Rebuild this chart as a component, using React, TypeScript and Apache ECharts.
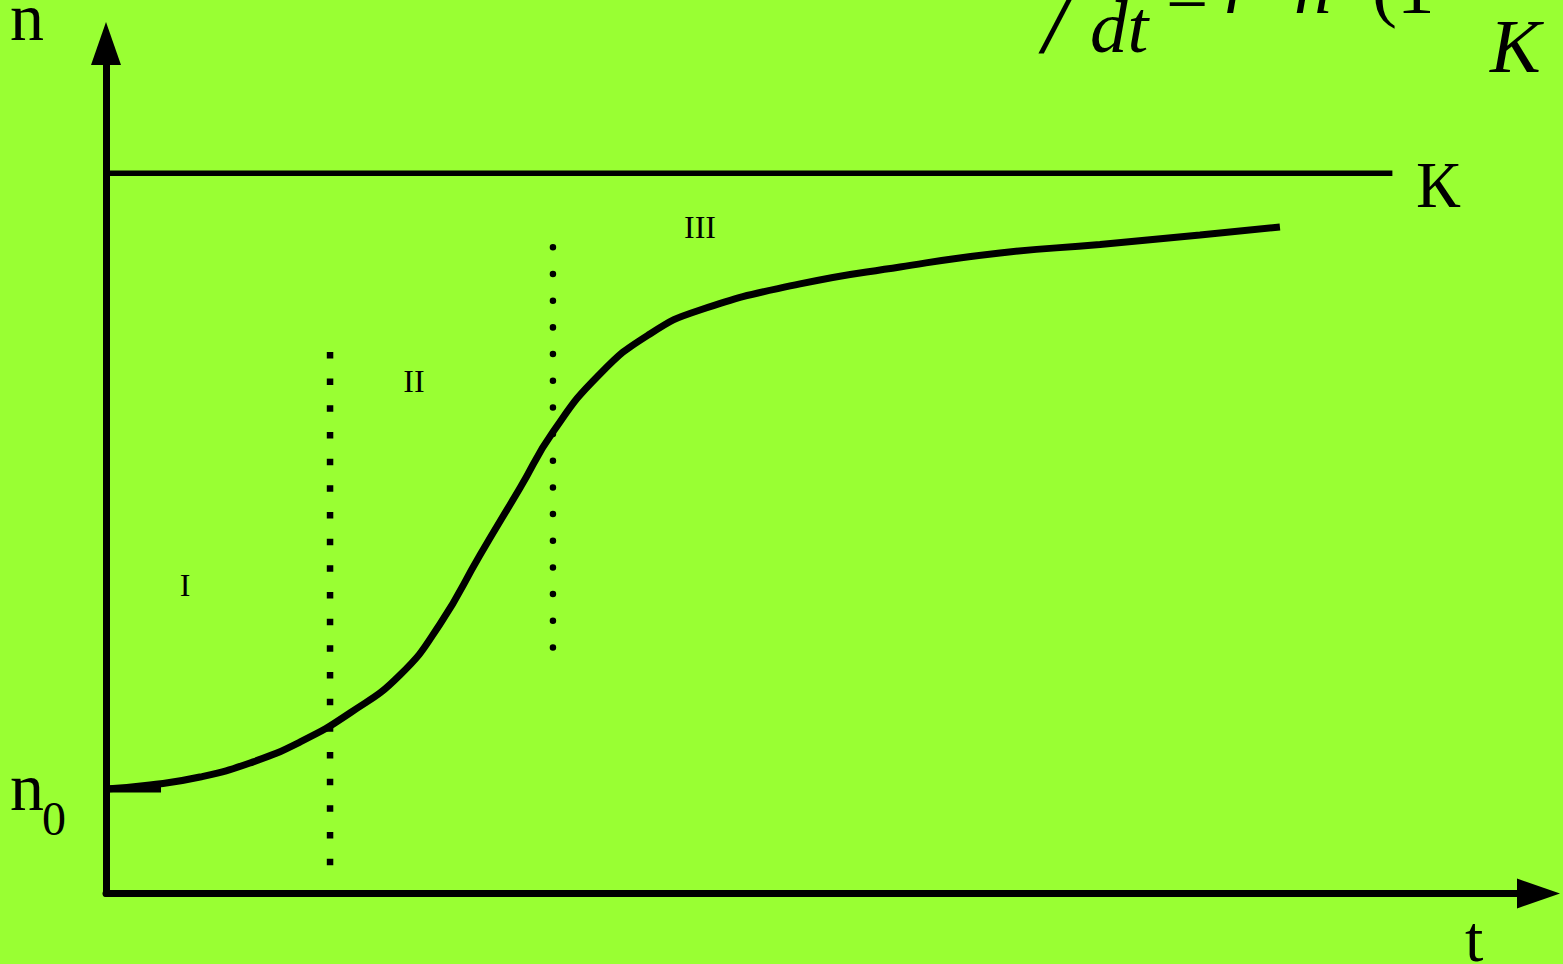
import React, { useEffect, useRef } from "react";
import * as echarts from "echarts";

// Logistic growth sketch, values in arbitrary units (t: 0..100, n: 0..118, K = 100)
const carryingCapacity = 100;
const kLineEnd = 89.8;
const n0 = 14.5;
const n0TickEnd = 3.84;
const curveT = [0, 3.07, 6.56, 10.05, 13.54, 17.03, 20.52, 23.32, 26.11, 28.9, 31.2, 34.48, 37.97, 41.47, 48.45, 55.43, 62.41, 69.39, 76.37, 81.95];
const curveN = [14.51, 15.06, 16.17, 18.12, 21.03, 25.06, 30.33, 37.42, 46.99, 56.3, 64.07, 72.12, 77.68, 81.01, 84.62, 86.98, 88.92, 90.1, 91.42, 92.53];
const phase1Boundary = { t: 15.64, nTop: 75.18, nBottom: 3.9 };
const phase2Boundary = { t: 31.2, nTop: 89.7, nBottom: 33.5 };
const phaseLabels = ["I", "II", "III"];

const SERIF = "'Liberation Serif', 'DejaVu Serif', serif";
const BG = "#99FF33";

export default function App() {
  const ref = useRef<HTMLDivElement>(null);
  useEffect(() => {
    if (!ref.current) return;
    const chart = echarts.init(ref.current, undefined, { renderer: "svg" });
    const txt = (text: string, x: number, y: number, size: number, opts: any = {}) => ({
      type: "text",
      x,
      y,
      silent: true,
      style: {
        text,
        fill: "#000",
        fontFamily: SERIF,
        fontSize: size,
        fontStyle: opts.italic ? "italic" : "normal",
        align: opts.align || "left",
        verticalAlign: "middle",
      },
    });
    const axisLine = {
      show: true,
      symbol: ["none", "triangle"],
      symbolSize: [30, 43],
      lineStyle: { color: "#000", width: 7 },
    };
    const option: any = {
      animation: false,
      backgroundColor: BG,
      grid: { left: 106, right: 24.5, top: 43.5, bottom: 70.5, outerBoundsMode: "none", containLabel: false },
      xAxis: {
        type: "value",
        min: 0,
        max: 100,
        splitLine: { show: false },
        axisTick: { show: false },
        axisLabel: { show: false },
        axisLine,
      },
      yAxis: {
        type: "value",
        min: 0,
        max: 118,
        splitLine: { show: false },
        axisTick: { show: false },
        axisLabel: { show: false },
        axisLine,
      },
      series: [
        {
          type: "line",
          name: "K",
          data: [[0, carryingCapacity], [kLineEnd, carryingCapacity]],
          showSymbol: false,
          silent: true,
          lineStyle: { color: "#000", width: 5.5 },
        },
        {
          type: "line",
          name: "n0",
          data: [[0, n0], [n0TickEnd, n0]],
          showSymbol: false,
          silent: true,
          lineStyle: { color: "#000", width: 7 },
        },
        {
          type: "line",
          name: "phase1",
          data: [[phase1Boundary.t, phase1Boundary.nTop], [phase1Boundary.t, phase1Boundary.nBottom]],
          showSymbol: false,
          silent: true,
          lineStyle: { color: "#000", width: 6.5, type: [6.5, 20.17], cap: "butt" },
        },
        {
          type: "line",
          name: "phase2",
          data: [[phase2Boundary.t, phase2Boundary.nTop], [phase2Boundary.t, phase2Boundary.nBottom]],
          showSymbol: false,
          silent: true,
          lineStyle: { color: "#000", width: 6.5, type: [0.01, 26.66], cap: "round" },
        },
        {
          type: "line",
          name: "n(t)",
          data: curveT.map((t, i) => [t, curveN[i]]),
          smooth: 0.5,
          showSymbol: false,
          silent: true,
          z: 5,
          lineStyle: { color: "#000", width: 7 },
        },
      ],
      graphic: [
        txt("n", 10, 17, 68),
        txt("n", 10, 787, 68),
        txt("0", 42, 818, 48),
        txt("К", 1416, 184.7, 66),
        txt("t", 1465, 938.7, 66),
        txt(phaseLabels[0], 185, 585, 32, { align: "center" }),
        txt(phaseLabels[1], 414, 381, 32, { align: "center" }),
        txt(phaseLabels[2], 700, 227, 32, { align: "center" }),
        txt("/", 1043, 18.3, 100, { italic: true }),
        txt("dt", 1090, 26.7, 75, { italic: true }),
        txt("=", 1166, -5, 75),
        txt("r", 1224, -12.3, 75, { italic: true }),
        txt("n", 1294, -12.3, 75, { italic: true }),
        txt("(1", 1372, -12.3, 75),
        txt("K", 1490, 45.5, 76, { italic: true }),
      ],
    };
    chart.setOption(option);
    return () => chart.dispose();
  }, []);
  return (
    <div
      ref={ref}
      style={{ position: "fixed", left: 0, top: 0, width: 1563, height: 964, background: BG }}
    />
  );
}
